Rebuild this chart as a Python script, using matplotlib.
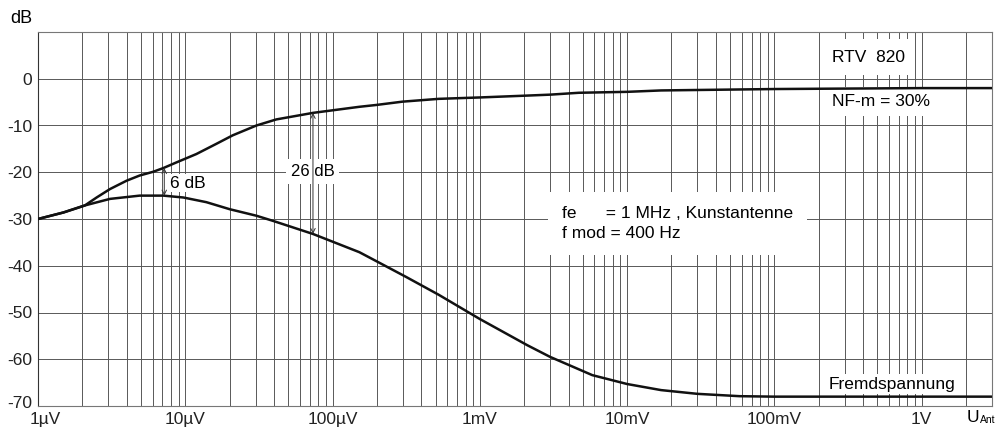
import numpy as np
import matplotlib
matplotlib.use("Agg")
import matplotlib.pyplot as plt
import matplotlib.transforms as mtransforms
from matplotlib.ticker import LogLocator, NullFormatter, FixedLocator

plt.rcParams['font.family'] = ['Liberation Sans', 'DejaVu Sans']

# input voltage at the antenna (V) and output level (dB)
u_nf = [1e-6, 1.49e-6, 2.08e-6, 2.5e-6, 3.08e-6, 4.0e-6, 4.9e-6, 6.05e-6, 7.1e-6,
        8.7e-6, 11.9e-6, 16.3e-6, 21e-6, 30.4e-6, 41.5e-6, 73.6e-6, 152e-6,
        199e-6, 298e-6, 525e-6, 1e-3, 2.1e-3, 3e-3, 4.7e-3, 10e-3, 17e-3,
        100e-3, 1.0, 3.0]
db_nf = [-30.0, -28.6, -27.1, -25.4, -23.6, -21.8, -20.7, -19.9, -19.1,
         -17.9, -16.1, -13.9, -12.1, -10.0, -8.7, -7.3, -6.0,
         -5.6, -4.9, -4.3, -4.0, -3.6, -3.4, -3.0, -2.8, -2.5,
         -2.2, -2.0, -2.0]

u_fremd = [1e-6, 1.49e-6, 2.08e-6, 3.08e-6, 4.9e-6, 7.1e-6, 9.7e-6, 13.9e-6, 20e-6,
           30.4e-6, 39.4e-6, 73.6e-6, 152e-6, 209e-6, 316e-6, 525e-6, 1e-3,
           2.1e-3, 3e-3, 4e-3, 5.8e-3, 10e-3, 17e-3, 30e-3, 58e-3, 100e-3, 3.0]
db_fremd = [-30.0, -28.6, -27.1, -25.7, -25.0, -25.0, -25.4, -26.4, -27.9,
            -29.3, -30.4, -33.2, -37.1, -39.4, -42.4, -46.2, -51.4,
            -57.0, -59.5, -61.2, -63.4, -65.3, -66.6, -67.4, -67.9, -68.0, -68.0]

x_ticks = [1e-6, 1e-5, 1e-4, 1e-3, 1e-2, 1e-1, 1.0]
x_labels = ['1µV', '10µV', '100µV', '1mV', '10mV', '100mV', '1V']
y_ticks = [0, -10, -20, -30, -40, -50, -60, -70]

# difference markers: (voltage, upper dB, lower dB)
diff_6 = (7.2e-6, -19.1, -25.0)
diff_26 = (73.6e-6, -7.3, -33.2)

fig = plt.figure(figsize=(9.99, 4.36), dpi=100)
ax = fig.add_axes([38 / 999, 30 / 436, 954 / 999, 374 / 436])

gc = '#585858'
ax.set_xscale('log')
ax.set_xlim(1e-6, 3.0)
ax.set_ylim(-70, 10)
ax.xaxis.set_major_locator(FixedLocator(x_ticks))
ax.set_xticklabels(x_labels)
ax.xaxis.set_minor_locator(LogLocator(base=10, subs=np.arange(2, 10)))
ax.xaxis.set_minor_formatter(NullFormatter())
ax.set_yticks(y_ticks)
ax.set_yticklabels([str(v) for v in y_ticks])
ax.tick_params(which='both', length=0, labelsize=12.5, colors='#222222')
ax.tick_params(axis='x', pad=4)
ax.tick_params(axis='y', pad=4)

# nudge the corner labels apart as in the original drawing
lab0 = ax.get_xticklabels()[0]
lab0.set_transform(lab0.get_transform() +
                   mtransforms.ScaledTranslation(5 / 72, 0, fig.dpi_scale_trans))
lab70 = ax.get_yticklabels()[-1]
lab70.set_transform(lab70.get_transform() +
                    mtransforms.ScaledTranslation(0, 3 / 72, fig.dpi_scale_trans))

ax.set_axisbelow(True)
ax.grid(which='major', color=gc, lw=0.7)
ax.grid(which='minor', axis='x', color=gc, lw=0.7)
for s in ax.spines.values():
    s.set_color('#777777')
    s.set_linewidth(0.8)
ax.spines['left'].set_color('#333333')

ax.plot(u_nf, db_nf, color='#111111', lw=1.8, zorder=3, solid_joinstyle='round')
ax.plot(u_fremd, db_fremd, color='#111111', lw=1.8, zorder=3, solid_joinstyle='round')

for xv, y1, y2 in (diff_6, diff_26):
    ax.annotate('', xy=(xv, y2), xytext=(xv, y1),
                arrowprops=dict(arrowstyle='<->', color='#333333', lw=0.7,
                                mutation_scale=8, shrinkA=0, shrinkB=0), zorder=3)


def box(pad):
    return dict(facecolor='white', edgecolor='none', boxstyle='square,pad=%s' % pad)


ax.text(7.9e-6, -22.3, '6 dB', fontsize=12.5, va='center', ha='left', bbox=box(0.1), zorder=1)
ax.text(52e-6, -19.9, '26 dB', fontsize=12, va='center', ha='left', bbox=box(0.3), zorder=1)

ax.text(0.245, 4.6, 'RTV  820', fontsize=12.5, va='center', ha='left', bbox=box(0.6), zorder=1)
ax.text(0.245, -4.9, 'NF-m = 30%', fontsize=12.5, va='center', ha='left', bbox=box(0.4), zorder=1)
ax.text(3.6e-3, -30.9, 'fe      = 1 MHz , Kunstantenne\nf mod = 400 Hz', fontsize=12.5,
        va='center', ha='left', linespacing=1.45, bbox=box(0.8), zorder=1)
ax.text(0.234, -65.3, 'Fremdspannung', fontsize=12.5, va='center', ha='left', bbox=box(0.15), zorder=1)

ax.text(-0.018, 1.037, 'dB', transform=ax.transAxes, fontsize=13, ha='center', va='center')
fig.text(967 / 999, 1 - 417 / 436, 'U', fontsize=12.5, ha='left', va='center')
fig.text(980 / 999, 1 - 420 / 436, 'Ant', fontsize=7.5, ha='left', va='center')

fig.savefig('out.png', dpi=100, facecolor='white')
